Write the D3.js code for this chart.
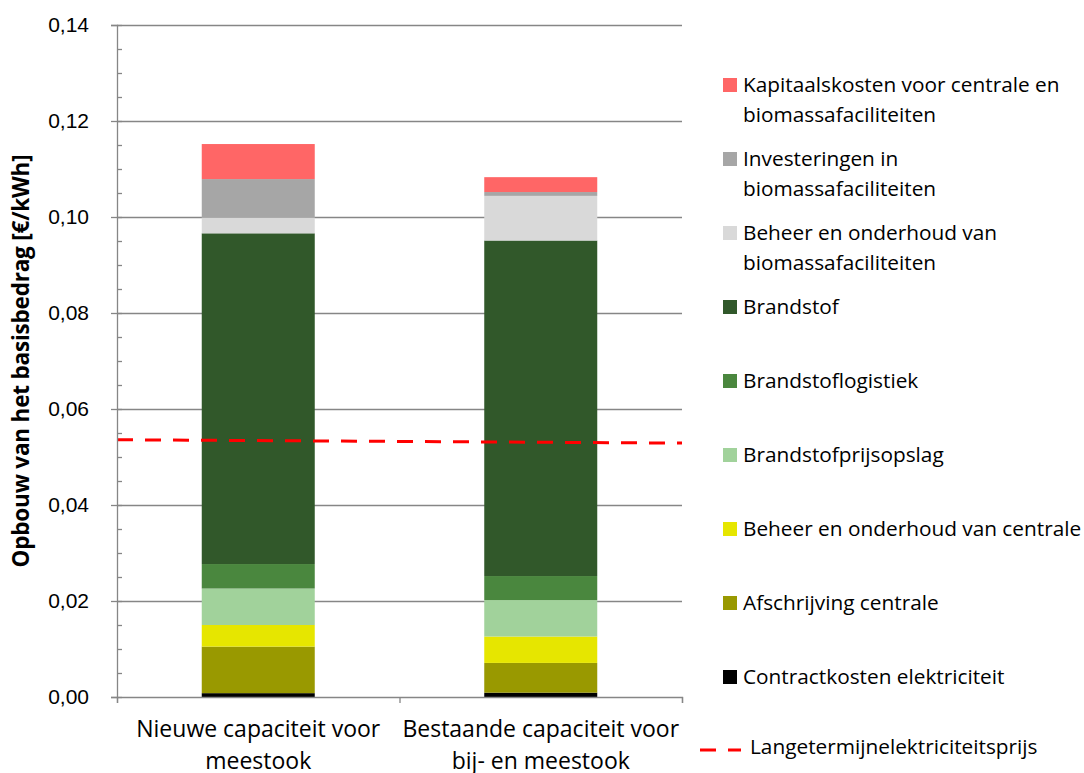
<!DOCTYPE html>
<html lang="nl">
<head>
  <meta charset="UTF-8" />
  <title>Opbouw van het basisbedrag</title>
  <style>
    body { margin: 0; background: #fff; }
    svg { display: block; font-family: "Open Sans", Lato, sans-serif; }
  </style>
</head>
<body>
  <div id="chart"></div>

  <script src="https://d3js.org/d3.v7.min.js"></script>
  <script>
    // categories (two lines each)
    const categories = ["Nieuwe capaciteit voor|meestook", "Bestaande capaciteit voor|bij- en meestook"];

    // stacked series, bottom to top
    const contractkosten = [0.0008, 0.0009];
    const afschrijving = [0.0097, 0.0062];
    const beheerCentrale = [0.0045, 0.0055];
    const prijsopslag = [0.0076, 0.0076];
    const logistiek = [0.0051, 0.0050];
    const brandstof = [0.0689, 0.0699];
    const beheerBiomassa = [0.0033, 0.0093];
    const investeringen = [0.0080, 0.0008];
    const kapitaalskosten = [0.0073, 0.0031];

    // long term electricity price, left and right edge of the plot
    const elekPrijs = [0.0536, 0.0529];

    const yTicks = [0, 0.02, 0.04, 0.06, 0.08, 0.10, 0.12, 0.14];

    const series = [
      { name: "Contractkosten elektriciteit", values: contractkosten, color: "#000000" },
      { name: "Afschrijving centrale", values: afschrijving, color: "#999900" },
      { name: "Beheer en onderhoud van centrale", values: beheerCentrale, color: "#e6e600" },
      { name: "Brandstofprijsopslag", values: prijsopslag, color: "#a1d29b" },
      { name: "Brandstoflogistiek", values: logistiek, color: "#4a873e" },
      { name: "Brandstof", values: brandstof, color: "#31582a" },
      { name: "Beheer en onderhoud van|biomassafaciliteiten", values: beheerBiomassa, color: "#d9d9d9" },
      { name: "Investeringen in|biomassafaciliteiten", values: investeringen, color: "#a6a6a6" },
      { name: "Kapitaalskosten voor centrale en|biomassafaciliteiten", values: kapitaalskosten, color: "#ff6666" }
    ];

    const W = 1084, H = 773;
    const margin = { left: 117, top: 25 };
    const plotW = 565, plotH = 672;

    const svg = d3.select("#chart").append("svg").attr("width", W).attr("height", H);
    const g = svg.append("g").attr("transform", `translate(${margin.left},${margin.top})`);

    const x = d3.scaleBand().domain(categories).range([0, plotW]);
    const y = d3.scaleLinear().domain([0, 0.14]).range([plotH, 0]);
    const fmt = d => d3.format(".2f")(d).replace(".", ",");

    // gridlines
    g.append("g")
      .call(d3.axisLeft(y).tickValues(yTicks.slice(1)).tickSize(-plotW).tickFormat(""))
      .call(s => s.select(".domain").remove())
      .selectAll("line").attr("stroke", "#868686").attr("stroke-width", 1.3);

    // stacked bars
    const rows = categories.map((c, i) => {
      const r = { cat: c };
      series.forEach(s => r[s.name] = s.values[i]);
      return r;
    });
    const stacked = d3.stack().keys(series.map(s => s.name))(rows);
    const barW = x.bandwidth() * 0.4;

    g.selectAll("g.layer")
      .data(stacked)
      .join("g")
      .attr("class", "layer")
      .attr("fill", (d, i) => series[i].color)
      .selectAll("rect")
      .data(d => d)
      .join("rect")
      .attr("x", d => x(d.data.cat) + (x.bandwidth() - barW) / 2)
      .attr("width", barW)
      .attr("y", d => y(d[1]))
      .attr("height", d => y(d[0]) - y(d[1]));

    // price line
    const xl = d3.scaleLinear().domain([0, elekPrijs.length - 1]).range([0, plotW]);
    g.append("path")
      .datum(elekPrijs)
      .attr("fill", "none")
      .attr("stroke", "#ff0000")
      .attr("stroke-width", 3)
      .attr("stroke-dasharray", "16,12")
      .attr("d", d3.line().x((d, i) => xl(i)).y(d => y(d)));

    // y axis
    const yAxis = g.append("g")
      .call(d3.axisLeft(y).tickValues(yTicks).tickSize(6).tickPadding(22).tickFormat(fmt));
    yAxis.select(".domain").attr("stroke", "#868686").attr("stroke-width", 1.3);
    yAxis.selectAll("line").attr("stroke", "#868686").attr("stroke-width", 1.3);
    yAxis.selectAll("text").attr("font-size", 21).attr("fill", "#000");

    g.append("g")
      .call(d3.axisRight(y).tickValues(d3.range(0, 0.1401, 0.005)).tickSize(5).tickFormat(""))
      .call(s => s.select(".domain").remove())
      .selectAll("line").attr("stroke", "#868686").attr("stroke-width", 1.3);

    // x axis
    const xAxis = g.append("g")
      .attr("transform", `translate(0,${plotH})`)
      .call(d3.axisBottom(d3.scaleLinear().domain([0, 2]).range([0, plotW])).tickValues([0, 1, 2]).tickSize(6).tickFormat(""));
    xAxis.select(".domain").attr("stroke", "#868686").attr("stroke-width", 1.3);
    xAxis.selectAll("line").attr("stroke", "#868686").attr("stroke-width", 1.3);

    categories.forEach(c => {
      const t = g.append("text")
        .attr("text-anchor", "middle")
        .attr("font-size", 23)
        .attr("x", x(c) + x.bandwidth() / 2)
        .attr("y", plotH + 40);
      c.split("|").forEach((line, j) => {
        t.append("tspan").attr("x", x(c) + x.bandwidth() / 2).attr("dy", j ? 32 : 0).text(line);
      });
    });

    // y title
    svg.append("text")
      .attr("transform", `translate(29,${margin.top + plotH / 2}) rotate(-90)`)
      .attr("text-anchor", "middle")
      .attr("font-size", 22.5)
      .attr("font-weight", "bold")
      .attr("letter-spacing", -0.2)
      .text("Opbouw van het basisbedrag [€/kWh]");

    // legend
    const legend = svg.append("g").attr("transform", "translate(723,85)");
    const legendItems = series.slice().reverse();
    legendItems.forEach((s, i) => {
      const li = legend.append("g").attr("transform", `translate(0,${i * 74})`);
      li.append("rect").attr("x", 0).attr("y", -7).attr("width", 14).attr("height", 14).attr("fill", s.color);
      const t = li.append("text").attr("x", 20).attr("y", 7).attr("font-size", 20.8);
      s.name.split("|").forEach((line, j) => {
        t.append("tspan").attr("x", 20).attr("dy", j ? 30 : 0).text(line);
      });
    });
    const ll = legend.append("g").attr("transform", `translate(0,${legendItems.length * 74 - 4})`);
    ll.append("line").attr("x1", -23).attr("x2", 18).attr("y1", 3).attr("y2", 3)
      .attr("stroke", "#ff0000").attr("stroke-width", 3).attr("stroke-dasharray", "16,12");
    ll.append("text").attr("x", 27).attr("y", 7).attr("font-size", 20.8).text("Langetermijnelektriciteitsprijs");
  </script>
</body>
</html>
